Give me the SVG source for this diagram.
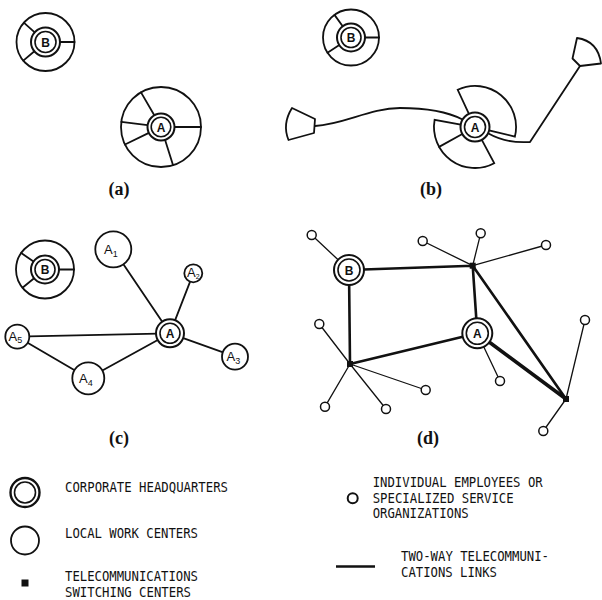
<svg xmlns="http://www.w3.org/2000/svg" width="602" height="600" viewBox="0 0 602 600">
<style>
  .ln { stroke: #111; stroke-width: 1.8; fill: none; stroke-linecap: round; stroke-linejoin: round; }
  .wc { stroke: #111; stroke-width: 1.8; fill: #fff; }
  .r1 { stroke: #111; stroke-width: 2; fill: #fff; }
  .r2 { stroke: #111; stroke-width: 1.6; fill: #fff; }
  .hl { font-family: "Liberation Sans", Arial, sans-serif; font-weight: bold; font-size: 12px; text-anchor: middle; fill: #111; }
  .hw { font-family: "Liberation Sans", Arial, sans-serif; font-size: 13px; fill: #111; }
  .cap { font-family: "Liberation Serif", "Times New Roman", serif; font-weight: bold; font-size: 18px; text-anchor: middle; fill: #111; }
  .lg { font-family: "DejaVu Sans Mono", "Liberation Mono", monospace; font-size: 13.5px; fill: #111; }
  .thick { stroke: #111; stroke-width: 2.6; fill: none; stroke-linecap: round; }
  .thin { stroke: #111; stroke-width: 1.3; fill: none; stroke-linecap: round; }
  .sc { stroke: #111; stroke-width: 1.5; fill: #fff; }
</style>
<rect width="602" height="600" fill="#fff"/>

<!-- Panel (a) -->
<g id="a-B">
  <circle class="wc" cx="45.5" cy="42" r="29"/>
  <path class="ln" d="M34.7 32.4 L23.8 22.7 M34.4 51.3 L23.3 60.6 M60 42 L74.5 42"/>
  <circle class="r1" cx="45.5" cy="42" r="14.5"/>
  <circle class="r2" cx="45.5" cy="42" r="10.5"/>
  <text class="hl" x="45.5" y="46.5">B</text>
</g>
<g id="a-A">
  <circle class="wc" cx="161" cy="127" r="40"/>
  <path class="ln" d="M154.3 115.3 L141 92.4 M174.5 127 L201 127 M165.1 139.9 L173 165.1 M148.9 132.9 L125 144.5 M147.6 125.2 L121.3 121.8"/>
  <circle class="r1" cx="161" cy="127" r="13.5"/>
  <circle class="r2" cx="161" cy="127" r="9.8"/>
  <text class="hl" x="161" y="131.5">A</text>
</g>
<text class="cap" x="119" y="195">(a)</text>

<!-- Panel (b) -->
<g id="b-B">
  <circle class="wc" cx="351" cy="37.5" r="28"/>
  <path class="ln" d="M342.7 26.2 L334.5 14.9 M339.3 45.1 L327.5 52.7 M365 37.5 L379 37.5"/>
  <circle class="r1" cx="351" cy="37.5" r="14"/>
  <circle class="r2" cx="351" cy="37.5" r="10"/>
  <text class="hl" x="351" y="42">B</text>
</g>
<g id="b-left-terminal">
  <path class="ln" d="M292 108 L315 119 L314 133 L288.5 140 Q282 124 292 108 Z"/>
</g>
<g id="b-right-terminal">
  <path class="ln" d="M577 38 L572.5 58.5 L580 66 L601 63.5 Q598 41 577 38 Z"/>
</g>
<g id="b-connectors">
  <path class="ln" d="M315 126 C345 124 370 108 400 108 C430 108 450 113 462.5 119.5"/>
  <path class="ln" d="M488.5 133.5 C500 140 515 143 530 142 L580 66"/>
</g>
<g id="b-A">
  <path class="wc" d="M468.9 113.9 L457.7 89.8 A41 41 0 0 1 514.9 136.6 L489.1 130.4 Z"/>
  <path class="wc" d="M481.8 139.8 L494.2 163.2 A41 41 0 0 1 434.6 119.9 L460.7 124.5 Z"/>
  <path class="ln" d="M462.3 134 L439.1 146.9"/>
  <circle class="r1" cx="475" cy="127" r="14.5"/>
  <circle class="r2" cx="475" cy="127" r="10.5"/>
  <text class="hl" x="475" y="131.5">A</text>
</g>
<text class="cap" x="431" y="195">(b)</text>

<!-- Panel (c) -->
<g id="c-connectors">
  <path class="ln" d="M170 333.3 L113.3 249.3 M170 333.3 L193.3 273.3 M170 333.3 L235 356.7 M170 333.3 L88.3 378.3 M170 333.3 L17.3 336.7 M17.3 336.7 L88.3 378.3"/>
</g>
<g id="c-B">
  <circle class="wc" cx="45" cy="269.5" r="29"/>
  <path class="ln" d="M33.5 261.5 L21.2 253 M34.1 278.3 L22.5 287.7 M59 269.5 L74 269.5"/>
  <circle class="r1" cx="45" cy="269.5" r="14"/>
  <circle class="r2" cx="45" cy="269.5" r="10"/>
  <text class="hl" x="45" y="274">B</text>
</g>
<g id="c-A">
  <circle class="r1" cx="170" cy="333.3" r="14"/>
  <circle class="r2" cx="170" cy="333.3" r="10"/>
  <text class="hl" x="170" y="337.8">A</text>
</g>
<g id="c-A1"><circle class="wc" cx="113.3" cy="249.3" r="18"/><text class="hw" x="104" y="253.5">A<tspan font-size="9" dy="3">1</tspan></text></g>
<g id="c-A2"><circle class="wc" cx="193.3" cy="273.3" r="9"/><text class="hw" x="187" y="276.5" font-size="9">A<tspan font-size="7" dy="2">2</tspan></text></g>
<g id="c-A3"><circle class="wc" cx="235" cy="356.7" r="13"/><text class="hw" x="226.5" y="360.5" font-size="12">A<tspan font-size="9" dy="3">3</tspan></text></g>
<g id="c-A4"><circle class="wc" cx="88.3" cy="378.3" r="16"/><text class="hw" x="79" y="382.5">A<tspan font-size="9" dy="3">4</tspan></text></g>
<g id="c-A5"><circle class="wc" cx="17.3" cy="336.7" r="12"/><text class="hw" x="8.5" y="340.5" font-size="12">A<tspan font-size="9" dy="2">5</tspan></text></g>
<text class="cap" x="119" y="444">(c)</text>

<!-- Panel (d) -->
<g id="d-connectors">
  <path class="thick" d="M349 270 L472.7 265.7 M349 270 L350 364 M350 364 L477.3 333.3 M472.7 265.7 L477.3 333.3 M472.7 265.7 L566 399"/>
  <path class="thick" style="stroke-width:3.6" d="M477.3 333.3 L566 399"/>
  <path class="thin" d="M311.7 235 L349 270 M472.7 265.7 L422.7 241 M472.7 265.7 L480.7 233.3 M472.7 265.7 L546 245 M350 364 L319.3 324 M350 364 L325 406.7 M350 364 L386 409 M350 364 L425.7 390 M477.3 333.3 L500 381 M566 399 L585 320 M566 399 L543.3 431"/>
</g>
<g id="d-B">
  <circle class="r1" cx="349" cy="270" r="15"/>
  <circle class="r2" cx="349" cy="270" r="11"/>
  <text class="hl" x="349" y="274.5">B</text>
</g>
<g id="d-A">
  <circle class="r1" cx="477.3" cy="333.3" r="15"/>
  <circle class="r2" cx="477.3" cy="333.3" r="11"/>
  <text class="hl" x="477.3" y="337.8">A</text>
</g>
<g id="d-S1"><rect x="469.7" y="262.7" width="6" height="6" fill="#111"/></g>
<g id="d-S2"><rect x="347" y="361" width="6" height="6" fill="#111"/></g>
<g id="d-S3"><rect x="563" y="396" width="6" height="6" fill="#111"/></g>
<g id="d-e1"><circle class="sc" cx="311.7" cy="235" r="4.5"/></g>
<g id="d-e2"><circle class="sc" cx="422.7" cy="241" r="4.5"/></g>
<g id="d-e3"><circle class="sc" cx="480.7" cy="233.3" r="4.5"/></g>
<g id="d-e4"><circle class="sc" cx="546" cy="245" r="4.5"/></g>
<g id="d-e5"><circle class="sc" cx="319.3" cy="324" r="4.5"/></g>
<g id="d-e6"><circle class="sc" cx="325" cy="406.7" r="4.5"/></g>
<g id="d-e7"><circle class="sc" cx="386" cy="409" r="4.5"/></g>
<g id="d-e8"><circle class="sc" cx="425.7" cy="390" r="4.5"/></g>
<g id="d-e9"><circle class="sc" cx="500" cy="381" r="4.5"/></g>
<g id="d-e10"><circle class="sc" cx="585" cy="320" r="4.5"/></g>
<g id="d-e11"><circle class="sc" cx="543.3" cy="431" r="4.5"/></g>
<text class="cap" x="428" y="444">(d)</text>

<!-- Legend -->
<g id="legend-hq">
  <circle class="r1" cx="25" cy="492.5" r="14.5" style="stroke-width:2.4"/>
  <circle class="r2" cx="25" cy="492.5" r="10.5"/>
  <text class="lg" x="65" y="491.5" textLength="163" lengthAdjust="spacingAndGlyphs">CORPORATE HEADQUARTERS</text>
</g>
<g id="legend-local">
  <circle class="wc" cx="25" cy="540.5" r="14"/>
  <text class="lg" x="65" y="537.5" textLength="133" lengthAdjust="spacingAndGlyphs">LOCAL WORK CENTERS</text>
</g>
<g id="legend-switch">
  <rect x="21.5" y="579.5" width="7" height="7" fill="#111"/>
  <text class="lg" x="65" y="581" textLength="133" lengthAdjust="spacingAndGlyphs">TELECOMMUNICATIONS</text>
  <text class="lg" x="65" y="597" textLength="126" lengthAdjust="spacingAndGlyphs">SWITCHING CENTERS</text>
</g>
<g id="legend-individual">
  <circle class="sc" cx="352.7" cy="498.3" r="5" style="stroke-width:2"/>
  <text class="lg" x="372.7" y="486.5" textLength="170" lengthAdjust="spacingAndGlyphs">INDIVIDUAL EMPLOYEES OR</text>
  <text class="lg" x="372.7" y="502.5" textLength="141" lengthAdjust="spacingAndGlyphs">SPECIALIZED SERVICE</text>
  <text class="lg" x="372.7" y="517.5" textLength="96" lengthAdjust="spacingAndGlyphs">ORGANIZATIONS</text>
</g>
<g id="legend-link">
  <line x1="336" y1="566.5" x2="375" y2="566.5" stroke="#111" stroke-width="2.6"/>
  <text class="lg" x="401" y="561" textLength="148" lengthAdjust="spacingAndGlyphs">TWO-WAY TELECOMMUNI-</text>
  <text class="lg" x="401" y="576.5" textLength="96" lengthAdjust="spacingAndGlyphs">CATIONS LINKS</text>
</g>
</svg>
